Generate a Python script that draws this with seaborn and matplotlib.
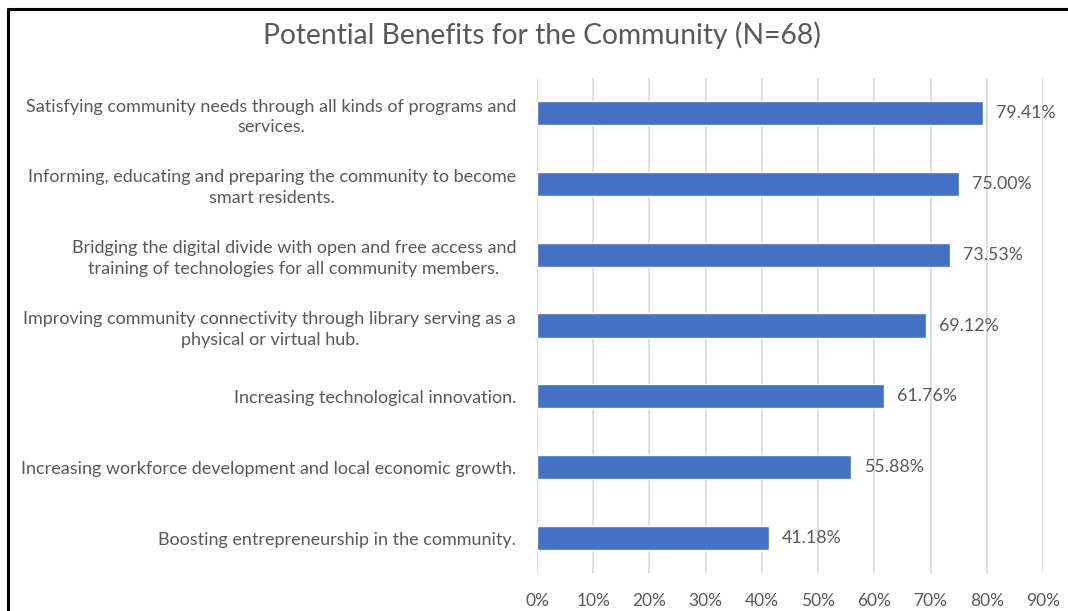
import matplotlib
matplotlib.use("Agg")
import matplotlib.pyplot as plt
import seaborn as sns
import pandas as pd
from matplotlib.ticker import FuncFormatter, MultipleLocator
from matplotlib.lines import Line2D

benefits = [
    "Satisfying community needs through all kinds of programs and\nservices.",
    "Informing, educating and preparing the community to become\nsmart residents.",
    "Bridging the digital divide with open and free access and\ntraining of technologies for all community members.",
    "Improving community connectivity through library serving as a\nphysical or virtual hub.",
    "Increasing technological innovation.",
    "Increasing workforce development and local economic growth.",
    "Boosting entrepreneurship in the community.",
]
shares = [0.7941, 0.7500, 0.7353, 0.6912, 0.6176, 0.5588, 0.4118]

df = pd.DataFrame({"benefit": benefits, "share": shares})

sns.set_theme(style="white")
plt.rcParams["font.family"] = ["Lato", "DejaVu Sans"]
text_color = "#595959"
bar_color = "#4472C4"

fig = plt.figure(figsize=(10.68, 6.11), dpi=100)
ax = fig.add_axes([0.5028, 0.0615, 0.4738, 0.8115])

sns.barplot(data=df, x="share", y="benefit", orient="h", color=bar_color,
            width=0.34, saturation=1, ax=ax, zorder=3)

ax.set_xlim(0, 0.9)
ax.xaxis.set_major_locator(MultipleLocator(0.1))
ax.xaxis.set_major_formatter(FuncFormatter(lambda v, _: f"{v*100:.0f}%"))
ax.grid(axis="x", color="#D9D9D9", linewidth=1.2, zorder=0)
ax.grid(axis="y", visible=False)
for s in ax.spines.values():
    s.set_visible(False)

ax.set_xlabel("")
ax.set_ylabel("")
ax.tick_params(axis="x", length=0, pad=14, labelsize=12.5, labelcolor=text_color)
ax.tick_params(axis="y", length=0, pad=15, labelsize=13, labelcolor=text_color)
for lbl in ax.get_yticklabels():
    lbl.set_multialignment("center")
    lbl.set_linespacing(1.35)

for i, v in enumerate(shares):
    ax.text(v + 0.023, i, f"{v*100:.2f}%", va="center", ha="left",
            fontsize=12.8, color=text_color)

fig.text(0.507, 0.943, "Potential Benefits for the Community (N=68)",
         ha="center", va="center", fontsize=20.3, color=text_color)

# outer frame on the left and top
fig.add_artist(Line2D([0.0075, 0.0075], [0, 0.985], transform=fig.transFigure,
                      color="black", linewidth=2.2))
fig.add_artist(Line2D([0.0075, 1.0], [0.985, 0.985], transform=fig.transFigure,
                      color="black", linewidth=2.2))

fig.savefig("out.png", dpi=100)
